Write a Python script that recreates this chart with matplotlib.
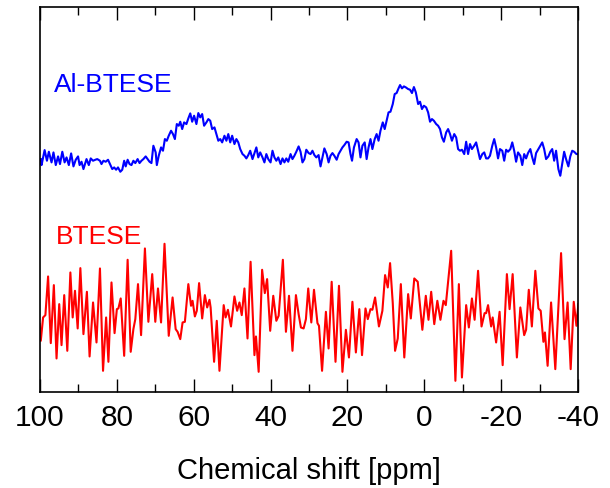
#import matplotlib to plot
import matplotlib.pyplot as plt
from matplotlib.ticker import MultipleLocator

# 27Al NMR spectra, chemical shift in ppm and intensity in arbitrary units
al_btese_ppm = [99.8, 99.6, 98.8, 98.2, 97.7, 97.0, 96.5, 95.9, 95.3, 94.8, 94.2, 93.6, 93.1, 92.5, 91.9, 91.3,
                90.7, 90.1, 89.7, 89.2, 88.7, 87.9, 87.3, 86.8, 86.2, 85.6, 85.1, 84.4, 84.0, 83.5, 82.9, 82.3,
                81.8, 81.2, 80.7, 80.2, 79.7, 79.1, 78.6, 78.1, 77.7, 77.2, 76.7, 76.2, 75.7, 75.2, 74.6, 74.1,
                73.6, 73.1, 72.5, 72.0, 71.5, 71.0, 70.5, 69.9, 69.6, 69.1, 68.5, 68.0, 67.5, 67.0, 66.5, 65.9,
                65.4, 64.9, 64.4, 63.9, 63.5, 63.0, 62.5, 61.9, 61.4, 60.9, 60.4, 59.9, 59.3, 58.8, 58.3, 57.8,
                57.3, 56.7, 56.2, 55.7, 55.2, 54.6, 54.1, 53.6, 53.1, 52.6, 52.0, 51.5, 51.0, 50.5, 50.0, 49.4,
                48.9, 48.4, 47.9, 47.3, 46.8, 46.3, 45.8, 45.3, 44.7, 44.2, 43.7, 43.2, 42.7, 42.1, 41.6, 41.1,
                40.6, 40.0, 39.5, 39.0, 38.5, 38.0, 37.4, 36.9, 36.4, 35.9, 35.4, 34.8, 34.3, 33.8, 33.3, 32.7,
                32.2, 31.7, 31.2, 30.7, 30.1, 29.6, 29.1, 28.6, 28.1, 27.5, 27.0, 26.5, 26.0, 25.4, 24.9, 24.4,
                23.9, 23.4, 22.8, 22.3, 21.8, 21.3, 20.8, 20.2, 19.7, 19.2, 18.8, 18.3, 17.6, 17.1, 16.6, 16.1,
                15.5, 15.0, 14.5, 14.0, 13.5, 12.9, 12.4, 11.9, 11.4, 10.8, 10.3, 9.8, 9.3, 8.8, 8.2, 7.7,
                7.2, 6.7, 6.3, 5.8, 5.3, 4.8, 4.2, 3.7, 3.2, 2.7, 2.2, 1.6, 1.1, 0.6, 0.1, -0.5,
                -1.0, -1.5, -2.0, -2.5, -3.1, -3.6, -4.1, -4.6, -5.1, -5.7, -6.2, -6.7, -7.2, -7.8, -8.3, -8.8,
                -9.3, -9.8, -10.4, -10.9, -11.4, -11.9, -12.4, -13.0, -13.5, -14.0, -14.5, -15.1, -15.6, -16.1, -16.6, -17.1,
                -17.7, -18.2, -18.7, -19.2, -19.7, -20.3, -20.8, -21.3, -21.8, -22.4, -22.9, -23.4, -23.9, -24.4, -25.0, -25.5,
                -26.0, -26.5, -27.0, -27.6, -28.1, -28.6, -29.1, -29.7, -30.2, -30.7, -31.2, -31.7, -32.3, -32.8, -33.3, -33.8,
                -34.3, -34.9, -35.4, -35.9, -36.4, -36.9, -37.5, -38.0, -38.5, -39.0, -39.6, -40.1]
al_btese_int = [60, 42, 87, 55, 82, 50, 80, 42, 68, 45, 82, 50, 65, 42, 77, 38,
                58, 68, 42, 52, 30, 60, 42, 62, 55, 58, 60, 55, 45, 55, 52, 58,
                45, 30, 35, 28, 35, 22, 28, 55, 38, 58, 45, 42, 55, 48, 60, 48,
                55, 60, 68, 60, 52, 48, 100, 80, 42, 70, 95, 85, 120, 115, 130, 145,
                135, 120, 165, 160, 172, 150, 170, 165, 182, 197, 172, 190, 165, 198, 185, 195,
                160, 170, 180, 175, 150, 155, 135, 115, 120, 110, 130, 115, 135, 110, 130, 105,
                120, 110, 90, 75, 70, 62, 72, 85, 60, 78, 95, 65, 80, 65, 50, 75,
                60, 50, 85, 65, 55, 65, 45, 62, 50, 62, 52, 75, 60, 70, 82, 98,
                82, 50, 60, 88, 78, 75, 85, 72, 65, 72, 38, 65, 92, 75, 50, 70,
                78, 70, 58, 75, 85, 95, 102, 112, 110, 75, 55, 95, 120, 110, 65, 100,
                110, 60, 95, 120, 90, 120, 135, 115, 145, 170, 150, 175, 200, 202, 225, 255,
                258, 272, 282, 272, 278, 275, 270, 268, 258, 276, 260, 225, 232, 210, 220, 215,
                200, 172, 180, 175, 165, 160, 150, 125, 112, 140, 150, 135, 115, 135, 125, 90,
                85, 88, 75, 112, 75, 105, 90, 100, 110, 85, 60, 75, 80, 62, 62, 70,
                100, 120, 95, 62, 90, 85, 55, 88, 82, 90, 110, 85, 52, 80, 70, 42,
                75, 62, 78, 90, 65, 45, 78, 90, 100, 110, 90, 60, 68, 82, 90, 55,
                85, 30, 10, 45, 82, 60, 38, 68, 85, 82, 75, 75]

btese_ppm = [100.1, 99.8, 99.2, 98.6, 97.9, 97.2, 96.4, 95.7, 95.0, 94.4, 93.7, 92.9, 92.1, 91.5, 90.9, 90.2,
             89.5, 88.7, 87.8, 87.1, 86.2, 85.3, 84.4, 83.6, 82.8, 82.2, 81.4, 80.6, 80.0, 79.6, 79.0, 78.1,
             77.2, 76.4, 75.7, 75.2, 74.5, 73.7, 72.7, 71.8, 70.8, 70.0, 69.3, 68.5, 67.6, 66.5, 65.5, 64.7,
             64.2, 63.5, 62.9, 62.3, 61.4, 60.7, 60.3, 59.7, 59.2, 58.6, 57.8, 57.1, 56.5, 55.9, 55.6, 54.7,
             54.0, 53.3, 52.2, 51.7, 51.1, 50.3, 49.4, 48.7, 48.1, 47.5, 46.8, 46.0, 45.2, 44.2, 43.8, 43.1,
             42.2, 41.5, 40.9, 40.1, 39.3, 38.5, 37.9, 36.8, 36.0, 35.2, 34.3, 33.4, 32.7, 32.1, 31.4, 30.8,
             30.2, 29.4, 28.7, 27.8, 27.4, 26.6, 25.6, 24.9, 24.1, 23.1, 22.2, 21.3, 20.4, 19.6, 18.7, 17.8,
             16.9, 16.2, 15.3, 14.7, 14.0, 13.5, 12.8, 11.8, 10.9, 10.2, 9.5, 8.9, 8.2, 7.6, 6.9, 6.1,
             5.2, 4.2, 3.5, 2.6, 1.7, 0.5, -0.4, -1.1, -1.8, -2.6, -3.4, -4.2, -5.0, -5.6, -7.0, -8.1,
             -9.0, -9.8, -10.9, -11.6, -12.4, -13.1, -14.0, -14.9, -15.7, -16.1, -16.6, -17.4, -17.8, -18.7, -19.6, -20.4,
             -21.5, -22.2, -23.0, -24.1, -25.0, -26.0, -26.5, -27.2, -28.0, -28.9, -29.7, -30.3, -31.0, -31.4, -32.1, -33.0,
             -34.1, -35.6, -36.5, -37.3, -38.1, -38.9, -39.6, -40.1]
btese_int = [180, 130, 200, 207, 323, 123, 297, 77, 240, 117, 267, 100, 335, 200, 280, 167,
             348, 150, 277, 83, 245, 125, 347, 40, 200, 67, 305, 153, 225, 227, 257, 85,
             373, 97, 165, 195, 300, 147, 407, 187, 330, 187, 287, 185, 421, 145, 260, 165,
             157, 135, 185, 187, 300, 235, 250, 203, 220, 303, 197, 267, 230, 253, 230, 67,
             190, 40, 237, 200, 223, 173, 263, 220, 245, 207, 287, 137, 367, 87, 143, 37,
             343, 273, 315, 160, 265, 190, 205, 373, 157, 265, 100, 267, 210, 170, 167, 195,
             287, 185, 283, 183, 175, 40, 217, 107, 307, 67, 295, 37, 163, 80, 247, 95,
             225, 87, 227, 195, 225, 223, 260, 173, 220, 327, 290, 363, 243, 100, 137, 300,
             80, 270, 197, 317, 307, 163, 265, 193, 277, 180, 250, 193, 250, 237, 400, 10,
             300, 20, 237, 170, 257, 193, 340, 173, 213, 213, 237, 173, 200, 125, 217, 57,
             330, 225, 330, 80, 230, 147, 163, 283, 173, 340, 227, 220, 127, 155, 55, 245,
             45, 393, 135, 245, 45, 247, 175, 240]

plt.rcParams['font.family'] = ['Liberation Sans', 'DejaVu Sans']
plt.rcParams['axes.unicode_minus'] = False

fig, ax = plt.subplots(figsize=(6.1, 4.89), dpi=100)
fig.subplots_adjust(left=0.0656, right=0.9475, bottom=0.196, top=0.9836)

# stack the two spectra with a vertical offset
al_offset = 639
btese_offset = 24
ax.plot(al_btese_ppm, [v + al_offset for v in al_btese_int], color='#0000ff', lw=1.5,
        solid_joinstyle='round')
ax.plot(btese_ppm, [v + btese_offset for v in btese_int], color='#ff0000', lw=1.5,
        solid_joinstyle='round')

ax.text(96.5, 902, 'Al-BTESE', color='#0000ff', fontsize=19, va='baseline')
ax.text(96.0, 447, 'BTESE', color='#ff0000', fontsize=19, va='baseline')

#set up the axes, ppm runs right to left
ax.set_xlim(100, -40)
ax.set_ylim(0, 1155)
ax.xaxis.set_major_locator(MultipleLocator(20))
ax.xaxis.set_minor_locator(MultipleLocator(10))
ax.set_yticks([])
ax.tick_params(axis='x', which='both', direction='in', top=True, width=1.0)
ax.tick_params(axis='x', which='major', length=9.5, pad=8, labelsize=21.5)
ax.tick_params(axis='x', which='minor', length=5.5)
for sp in ax.spines.values():
    sp.set_linewidth(1.2)

ax.set_xlabel('Chemical shift [ppm]', fontsize=21, labelpad=18)

plt.savefig('out.png', dpi=100)
